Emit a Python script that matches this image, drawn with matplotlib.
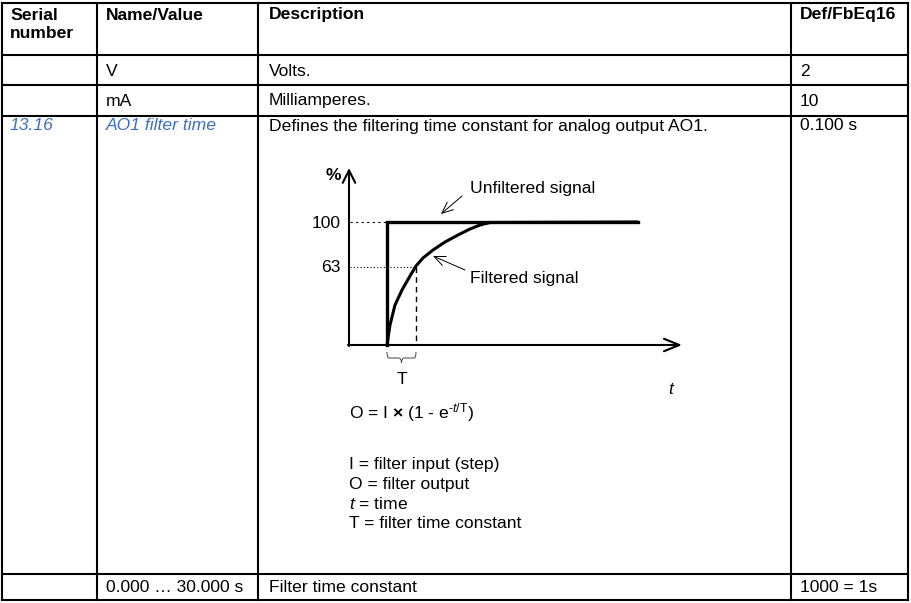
import numpy as np
import matplotlib
matplotlib.use('Agg')
from matplotlib import pyplot as plt
from matplotlib.path import Path
from matplotlib.patches import PathPatch

plt.rcParams['font.family'] = ['Liberation Sans', 'DejaVu Sans']
plt.rcParams['mathtext.fontset'] = 'custom'
plt.rcParams['mathtext.rm'] = 'Liberation Sans'
plt.rcParams['mathtext.it'] = 'Liberation Sans:italic'
plt.rcParams['mathtext.bf'] = 'Liberation Sans:bold'

# table content
headers = ['Serial', 'Name/Value', 'Description', 'Def/FbEq16']
serials = ['', '', '13.16', '']
names = ['V', 'mA', 'AO1 filter time', '0.000 \u2026 30.000 s']
descs = ['Volts.', 'Milliamperes.',
         'Defines the filtering time constant for analog output AO1.',
         'Filter time constant']
defaults = ['2', '10', '0.100 s', '1000 = 1s']

# table grid (pixels)
col_x = [2, 97, 258, 791, 908]
row_y = [3, 55, 85, 116, 574, 600]
text_x = [10, 106, 269, 800]

# step response diagram (pixels)
step_x = [387, 387, 638]
step_y = [345, 222, 222]
filt_x = [387, 390, 395, 402, 410, 416, 423, 433, 445, 458, 470, 480, 490, 638]
filt_y = [345, 325, 305, 290, 276, 266, 258, 250, 242, 235, 229, 225, 222.5, 222]
level_labels = ['100', '63']
level_y = [222, 267]
tau_x = 416

formula_lines = ['I = filter input (step)', 'O = filter output',
                 '$\\mathit{t}$ = time', 'T = filter time constant']

fig = plt.figure(figsize=(9.11, 6.03), dpi=100)
ax = fig.add_axes([0, 0, 1, 1])
ax.set_xlim(0, 911)
ax.set_ylim(603, 0)
ax.axis('off')

lw_tab = 1.5
for x in col_x:
    ax.plot([x, x], [row_y[0], row_y[-1]], color='black', lw=lw_tab, solid_capstyle='projecting')
for y in row_y:
    ax.plot([col_x[0], col_x[-1]], [y, y], color='black', lw=lw_tab, solid_capstyle='projecting')

fs = 12.6
blue = '#3a6fc4'
for i, h in enumerate(headers):
    ax.text(text_x[i], 15, h, fontsize=fs, fontweight='bold', va='center', ha='left')
ax.text(text_x[0], 34, 'number', fontsize=fs, fontweight='bold', va='center', ha='left')

row_text_y = [71, 101, 126, 588]
for r in range(4):
    ty = row_text_y[r]
    if serials[r]:
        ax.text(text_x[0], ty, serials[r], fontsize=fs, color=blue, style='italic', va='center')
    if r == 2:
        ax.text(text_x[1], ty, names[r], fontsize=fs, color=blue, style='italic', va='center')
    else:
        ax.text(text_x[1], ty, names[r], fontsize=fs, va='center')
    ax.text(text_x[2], ty, descs[r], fontsize=fs, va='center')
    ax.text(text_x[3], ty, defaults[r], fontsize=fs, va='center')

# diagram axes
ax.annotate('', xy=(349, 168), xytext=(349, 346),
            arrowprops=dict(arrowstyle='->,head_length=0.9,head_width=0.45', lw=1.5, color='black', shrinkA=0, shrinkB=0))
ax.annotate('', xy=(682, 345), xytext=(348, 345),
            arrowprops=dict(arrowstyle='->,head_length=1.1,head_width=0.45', lw=1.5, color='black', shrinkA=0, shrinkB=0))
ax.text(326, 175, '%', fontsize=fs, fontweight='bold', va='center')
ax.text(668, 389, 't', fontsize=fs, style='italic', va='center')

# guide lines
ax.plot([350, step_x[0]], [level_y[0], level_y[0]], color='black', lw=0.8, ls=(0, (2, 3)))
ax.plot([350, tau_x], [level_y[1], level_y[1]], color='black', lw=0.8, ls=(0, (1, 2)))
ax.plot([tau_x, tau_x], [level_y[1], 345], color='black', lw=1.0, ls=(0, (4, 3)))

ax.plot(step_x, step_y, color='black', lw=2.4, solid_joinstyle='miter')
ax.plot(filt_x, filt_y, color='black', lw=2.2, solid_capstyle='butt')

for lab, y in zip(level_labels, level_y):
    ax.text(341, y + 1, lab, fontsize=fs, ha='right', va='center')

ax.text(470, 188, 'Unfiltered signal', fontsize=fs, va='center')
ax.text(470, 278, 'Filtered signal', fontsize=fs, va='center')
ax.annotate('', xy=(441, 214), xytext=(462, 196),
            arrowprops=dict(arrowstyle='->,head_length=0.8,head_width=0.35', lw=0.7, color='black', shrinkA=0, shrinkB=0))
ax.annotate('', xy=(433, 256), xytext=(465, 270),
            arrowprops=dict(arrowstyle='->,head_length=0.8,head_width=0.35', lw=0.7, color='black', shrinkA=0, shrinkB=0))

# brace under T
bx0, bx1, by = step_x[0], tau_x, 352
bm = (bx0 + bx1) / 2
verts = [(bx0, by), (bx0, by + 6), (bx0 + 2, by + 6), (bm - 3, by + 6),
         (bm, by + 6), (bm, by + 11), (bm, by + 11),
         (bm, by + 6), (bm + 3, by + 6), (bx1 - 2, by + 6),
         (bx1, by + 6), (bx1, by)]
codes = [Path.MOVETO, Path.CURVE3, Path.CURVE3, Path.LINETO,
         Path.CURVE3, Path.CURVE3, Path.MOVETO,
         Path.CURVE3, Path.CURVE3, Path.LINETO,
         Path.CURVE3, Path.CURVE3]
ax.add_patch(PathPatch(Path(verts, codes), fill=False, lw=0.7, color='#444444'))
ax.text(bm, 379, 'T', fontsize=fs, ha='center', va='center')

ax.text(349, 413, 'O = I $\\mathbf{\\times}$ (1 - e$^{\\text{-}\\mathit{t}\\text{/T}}$)', fontsize=fs, va='center')
for k, line in enumerate(formula_lines):
    ax.text(349, 464 + 20 * k, line, fontsize=fs, va='center')

fig.savefig('out.png', dpi=100)
